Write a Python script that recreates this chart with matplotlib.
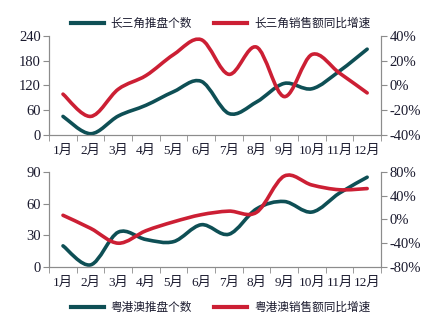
import matplotlib
matplotlib.use("Agg")
import matplotlib.pyplot as plt
import numpy as np
from matplotlib.path import Path
from matplotlib.patches import PathPatch
from matplotlib.lines import Line2D
from matplotlib.ticker import FuncFormatter

months = ["1月", "2月", "3月", "4月", "5月", "6月", "7月", "8月", "9月", "10月", "11月", "12月"]
yrd_count = [45, 3, 46, 72, 105, 130, 52, 80, 125, 112, 155, 208]
yrd_growth = [-7, -25, -3, 8, 25, 37, 9, 31, -9, 25, 10, -6]
gba_count = [20, 2, 33, 26, 24, 40, 31, 55, 62, 52, 70, 85]
gba_growth = [7, -15, -40, -19, -4, 8, 14, 12, 73, 58, 50, 52]

TEAL = "#0e4f55"
RED = "#cc1f34"
GRAY = "#8c8c8c"
TXT = "#1a1a2e"
serif = ["Liberation Serif", "Noto Sans CJK SC"]
cjk = ["Noto Sans CJK SC", "DejaVu Sans"]


def smooth_path(xs, ys):
    p = np.column_stack([xs, ys]).astype(float)
    n = len(p)
    verts = [p[0]]
    codes = [Path.MOVETO]
    for i in range(n - 1):
        p0 = p[i - 1] if i > 0 else p[i]
        p1 = p[i]
        p2 = p[i + 1]
        p3 = p[i + 2] if i + 2 < n else p[i + 1]
        c1 = p1 + (p2 - p0) / 6.0
        c2 = p2 - (p3 - p1) / 6.0
        verts += [c1, c2, p2]
        codes += [Path.CURVE4] * 3
    return Path(verts, codes)


def draw(ax, ys, color):
    xs = np.arange(len(ys))
    patch = PathPatch(smooth_path(xs, ys), fill=False, edgecolor=color,
                      lw=2.6, capstyle="round", joinstyle="round")
    ax.add_patch(patch)


fig = plt.figure(figsize=(4.43, 3.30), dpi=100)
fig.patch.set_facecolor("white")


def setup(ax, ax2, ylim, yticks, y2lim, y2ticks):
    ax.set_xlim(-0.5, 11.5)
    ax.set_ylim(*ylim)
    ax.set_yticks(yticks)
    ax2.set_ylim(*y2lim)
    ax2.set_yticks(y2ticks)
    ax2.yaxis.set_major_formatter(FuncFormatter(lambda v, p: f"{int(v)}%"))
    ax.set_xticks(range(12))
    ax.set_xticks(np.arange(-0.5, 12, 1), minor=True)
    ax.set_xticklabels(months, fontfamily=serif, fontsize=9.5, color=TXT)
    ax.tick_params(axis="x", which="major", length=0, pad=7)
    ax.tick_params(axis="x", which="minor", length=4, color=GRAY, direction="out")
    ax.tick_params(axis="y", length=4, color=GRAY, labelsize=10.5, labelcolor=TXT, pad=2)
    ax2.tick_params(axis="y", length=4, color=GRAY, labelsize=10.5, labelcolor=TXT, pad=2)
    for lab in ax.get_yticklabels() + ax2.get_yticklabels():
        lab.set_fontfamily(serif)
    for a in (ax, ax2):
        a.spines["top"].set_visible(False)
        for s in ("left", "right", "bottom"):
            a.spines[s].set_color(GRAY)
            a.spines[s].set_linewidth(0.8)


# top chart
ax1 = fig.add_axes([0.111, 0.591, 0.749, 0.300])
ax1b = ax1.twinx()
setup(ax1, ax1b, (0, 240), [0, 60, 120, 180, 240], (-40, 40), [-40, -20, 0, 20, 40])
draw(ax1, yrd_count, TEAL)
draw(ax1b, yrd_growth, RED)

# bottom chart
ax2 = fig.add_axes([0.111, 0.191, 0.749, 0.288])
ax2b = ax2.twinx()
setup(ax2, ax2b, (0, 90), [0, 30, 60, 90], (-80, 80), [-80, -40, 0, 40, 80])
draw(ax2, gba_count, TEAL)
draw(ax2b, gba_growth, RED)

leg_kw = dict(ncol=2, frameon=False, handlelength=2.8, handletextpad=0.6,
              columnspacing=1.9, prop={"family": cjk, "size": 8.4})
h1 = [Line2D([], [], color=TEAL, lw=3), Line2D([], [], color=RED, lw=3)]
l1 = fig.legend(h1, ["长三角推盘个数", "长三角销售额同比增速"], loc="center",
                bbox_to_anchor=(0.498, 0.928), **leg_kw)
l2 = fig.legend(h1, ["粤港澳推盘个数", "粤港澳销售额同比增速"], loc="center",
                bbox_to_anchor=(0.498, 0.068), **leg_kw)
for lg in (l1, l2):
    for t in lg.get_texts():
        t.set_color(TXT)

fig.savefig("out.png", dpi=100, facecolor="white")
